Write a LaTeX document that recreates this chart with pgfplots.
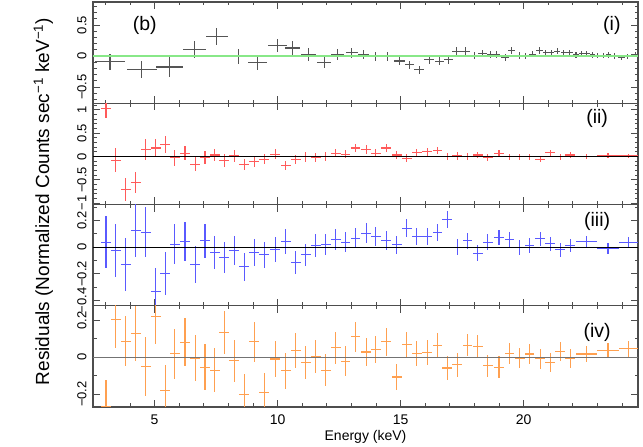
\documentclass[border=0pt]{standalone}
\usepackage{fontspec}
\setmainfont{Liberation Sans}
\usepackage{pgfplots}
\pgfplotsset{compat=1.18}
\definecolor{frm}{HTML}{4D4D4D}
\definecolor{pblack}{HTML}{555555}
\definecolor{pred}{HTML}{FF5A5A}
\definecolor{pblue}{HTML}{5A5AFF}
\definecolor{porange}{HTML}{FFA050}
\definecolor{pgreen}{HTML}{88E888}
\newcommand{\tfont}{\fontsize{13}{13}\selectfont}
\newcommand{\xfont}{\fontsize{14}{14}\selectfont}
\newcommand{\bfnt}{\fontsize{19.5}{20}\selectfont}
\newcommand{\lfnt}{\fontsize{19}{20}\selectfont}
\pgfplotsset{
 panel/.style={
  scale only axis, width=545pt, height=101.25pt, anchor=south west,
  xmin=2.5, xmax=24.65,
  axis line style={frm, line width=1.1pt},
  tick align=inside, major tick length=7pt, minor tick length=3.5pt,
  every tick/.style={frm, line width=0.8pt},
  xtick={5,10,15,20}, minor xtick={3,4,...,24},
  xticklabels={},
  yticklabel style={rotate=90, anchor=south, font=\tfont},
  yticklabel shift=3pt,
  xticklabel style={font=\xfont},
  xticklabel shift=4pt,
 },
 errs/.style={draw=#1, color=#1, only marks, mark=text, text mark={}, error bars/.cd, x dir=both, x explicit, y dir=both, y explicit, error mark=none, error bar style={draw=#1, color=#1, solid, line width=1.1pt}},
}
\begin{document}
\begin{tikzpicture}
\useasboundingbox (0,0) rectangle (643pt,447pt);
% Panel (i)
\begin{axis}[panel, at={(93pt,343.75pt)}, ymin=-0.76, ymax=0.87,
  ytick={-0.5,0,0.5}, yticklabels={−0.5,0,0.5},
  minor ytick={-0.7,-0.6,-0.4,-0.3,-0.2,-0.1,0.1,0.2,0.3,0.4,0.6,0.7,0.8}]
\addplot[errs=pblack] table[x=x,y=y,x error=ex,y error=ey] {
x y ex ey
3.19 -0.09 0.62 0.13
4.48 -0.215 0.61 0.14
5.60 -0.177 0.54 0.155
6.62 0.103 0.48 0.134
7.53 0.318 0.44 0.134
8.41 -0.005 0.44 0.126
9.19 -0.097 0.38 0.12
9.99 0.17 0.38 0.107
10.6 0.13 0.30 0.107
11.25 0.027 0.31 0.1
11.9 -0.1 0.29 0.094
12.45 0.027 0.26 0.086
13.02 0.05 0.25 0.08
13.49 0.02 0.24 0.075
13.99 -0.005 0.24 0.072
14.48 -0.005 0.24 0.07
14.94 -0.08 0.22 0.07
15.36 -0.14 0.2 0.068
15.76 -0.22 0.2 0.066
16.16 -0.06 0.2 0.065
16.58 -0.085 0.2 0.063
16.94 -0.06 0.18 0.062
17.28 0.08 0.18 0.06
17.65 0.08 0.18 0.058
17.99 0.01 0.17 0.057
18.33 0.04 0.17 0.056
18.67 0.03 0.15 0.055
18.91 0.03 0.13 0.055
19.25 -0.02 0.15 0.054
19.52 0.09 0.14 0.053
19.83 0.01 0.13 0.052
20.08 0 0.12 0.052
20.36 0.03 0.14 0.051
20.63 0.09 0.14 0.05
20.9 0.05 0.12 0.05
21.12 0.05 0.12 0.05
21.37 0.08 0.12 0.049
21.62 0.05 0.12 0.048
21.86 0.05 0.13 0.048
22.13 0.02 0.13 0.047
22.37 0.04 0.11 0.046
22.57 0.04 0.11 0.046
22.8 0.02 0.11 0.045
23.02 0.01 0.11 0.045
23.25 0.01 0.11 0.044
23.45 0.02 0.11 0.044
23.68 0 0.13 0.043
23.97 -0.02 0.14 0.043
24.23 -0.01 0.13 0.042
24.56 0.02 0.18 0.042
};
\addplot[pgreen, line width=1.8pt] coordinates {(2.5,0) (24.65,0)};
\node[font=\bfnt] at (rel axis cs:0.095,0.77) {(b)};
\node[font=\bfnt] at (rel axis cs:0.952,0.77) {(i)};
\end{axis}
% Panel (ii)
\begin{axis}[panel, at={(93pt,242.5pt)}, ymin=-1.03, ymax=1.14,
  ytick={-1,-0.5,0,0.5,1}, yticklabels={−1,−0.5,0,0.5,1},
  minor ytick={-0.9,-0.8,-0.7,-0.6,-0.4,-0.3,-0.2,-0.1,0.1,0.2,0.3,0.4,0.6,0.7,0.8,0.9,1.1}]
\addplot[errs=pred] table[x=x,y=y,x error=ex,y error=ey] {
x y ex ey
3.03 1.02 0.2 0.2
3.42 -0.08 0.2 0.26
3.83 -0.71 0.2 0.24
4.24 -0.56 0.2 0.23
4.65 0.15 0.2 0.22
5.05 0.18 0.2 0.2
5.44 0.26 0.2 0.18
5.83 -0.03 0.2 0.17
6.24 0.07 0.2 0.15
6.65 -0.17 0.2 0.15
7.05 -0.03 0.2 0.14
7.45 0.03 0.2 0.13
7.84 -0.08 0.2 0.14
8.24 0.01 0.2 0.125
8.65 -0.17 0.2 0.125
9.06 -0.11 0.2 0.12
9.46 -0.06 0.2 0.11
9.9 0.05 0.2 0.11
10.33 -0.19 0.2 0.1
10.74 -0.06 0.2 0.1
11.15 -0.01 0.2 0.1
11.55 -0.03 0.2 0.095
11.96 -0.01 0.2 0.095
12.37 0.07 0.2 0.09
12.76 0.05 0.2 0.09
13.17 0.18 0.2 0.09
13.6 0.15 0.2 0.088
13.99 0.07 0.2 0.086
14.41 0.18 0.2 0.085
14.84 0.03 0.2 0.083
15.25 -0.04 0.2 0.082
15.66 0.08 0.2 0.08
16.09 0.1 0.2 0.08
16.5 0.12 0.2 0.078
16.9 -0.01 0.2 0.077
17.3 0.01 0.2 0.076
17.72 -0.01 0.2 0.075
18.13 0.03 0.2 0.074
18.55 -0.03 0.2 0.073
19.0 0.07 0.2 0.072
19.43 -0.01 0.2 0.07
19.85 -0.01 0.2 0.07
20.24 -0.01 0.2 0.068
20.67 -0.06 0.2 0.068
21.08 0.08 0.2 0.067
21.49 -0.01 0.2 0.066
21.9 0.03 0.2 0.065
22.55 0.0 0.42 0.05
23.43 0.02 0.43 0.05
24.26 0.01 0.4 0.05
};
\addplot[black, line width=0.9pt] coordinates {(2.5,0) (24.65,0)};
\node[font=\bfnt] at (rel axis cs:0.925,0.85) {(ii)};
\end{axis}
% Panel (iii)
\begin{axis}[panel, at={(93pt,141.25pt)}, ymin=-0.44, ymax=0.32,
  ytick={-0.4,-0.2,0,0.2}, yticklabels={−0.4,−0.2,0,0.2},
  minor ytick={-0.3,-0.1,0.1,0.3}]
\addplot[errs=pblue] table[x=x,y=y,x error=ex,y error=ey] {
x y ex ey
3.03 0.038 0.2 0.197
3.42 -0.025 0.2 0.2
3.83 -0.128 0.2 0.2
4.24 0.125 0.2 0.197
4.65 0.113 0.2 0.19
5.05 -0.33 0.2 0.17
5.44 -0.2 0.2 0.16
5.83 0.022 0.2 0.15
6.24 0.042 0.2 0.146
6.65 -0.128 0.2 0.138
7.05 0.047 0.2 0.13
7.45 -0.04 0.2 0.123
7.84 -0.078 0.2 0.117
8.24 -0.025 0.2 0.11
8.65 -0.146 0.2 0.105
9.06 -0.04 0.2 0.103
9.46 -0.058 0.2 0.1
9.9 -0.02 0.2 0.094
10.33 0.042 0.2 0.093
10.74 -0.115 0.2 0.088
11.15 -0.058 0.2 0.085
11.55 0.012 0.2 0.084
11.96 0.022 0.2 0.08
12.37 0.06 0.2 0.078
12.76 0.038 0.2 0.076
13.17 0.068 0.2 0.075
13.6 0.105 0.2 0.074
13.99 0.08 0.2 0.073
14.41 0.05 0.2 0.072
14.84 0.017 0.2 0.07
15.25 0.143 0.2 0.068
15.66 0.08 0.2 0.067
16.09 0.08 0.2 0.066
16.5 0.11 0.2 0.065
16.9 0.205 0.2 0.064
17.3 0.0 0.2 0.062
17.72 0.047 0.2 0.061
18.13 -0.045 0.2 0.06
18.55 0.038 0.2 0.059
19.0 0.072 0.2 0.058
19.43 0.06 0.2 0.057
19.85 -0.002 0.2 0.056
20.24 0.01 0.2 0.055
20.67 0.062 0.2 0.054
21.08 0.025 0.2 0.053
21.49 -0.02 0.2 0.052
21.9 0.01 0.2 0.05
22.55 0.042 0.42 0.04
23.43 -0.008 0.43 0.04
24.26 0.038 0.4 0.04
};
\addplot[black, line width=0.9pt] coordinates {(2.5,0) (24.65,0)};
\node[font=\bfnt] at (rel axis cs:0.925,0.83) {(iii)};
\end{axis}
% Panel (iv)
\begin{axis}[panel, at={(93pt,40pt)}, ymin=-0.27, ymax=0.28,
  ytick={-0.2,0,0.2}, yticklabels={−0.2,0,0.2},
  minor ytick={-0.1,0.1},
  xticklabels={5,10,15,20},
  xlabel={Energy (keV)},
  xlabel style={at={(axis description cs:0.5,0)}, anchor=center, yshift=-30pt, font=\xfont}]
\addplot[errs=porange] table[x=x,y=y,x error=ex,y error=ey] {
x y ex ey
3.03 -0.265 0.2 0.14
3.42 0.206 0.2 0.155
3.83 0.088 0.2 0.137
4.24 0.128 0.2 0.15
4.65 -0.049 0.2 0.16
5.05 0.224 0.2 0.15
5.44 -0.182 0.2 0.14
5.83 0.02 0.2 0.136
6.24 0.082 0.2 0.132
6.65 -0.004 0.2 0.127
7.05 -0.053 0.2 0.123
7.45 -0.071 0.2 0.12
7.84 0.137 0.2 0.117
8.24 -0.018 0.2 0.114
8.65 -0.2 0.2 0.11
9.06 0.084 0.2 0.108
9.46 -0.191 0.2 0.105
9.9 -0.009 0.2 0.1
10.33 -0.073 0.2 0.097
10.74 0.037 0.2 0.095
11.15 -0.027 0.2 0.091
11.55 0.005 0.2 0.09
11.96 -0.071 0.2 0.087
12.37 0.051 0.2 0.085
12.76 -0.022 0.2 0.082
13.17 0.111 0.2 0.083
13.6 0.029 0.2 0.077
13.99 0.042 0.2 0.075
14.41 0.084 0.2 0.077
14.84 -0.107 0.2 0.072
15.25 0.069 0.2 0.068
15.66 0.02 0.2 0.068
16.09 0.027 0.2 0.068
16.5 0.064 0.2 0.067
16.9 -0.058 0.2 0.066
17.3 -0.04 0.2 0.065
17.72 0.066 0.2 0.061
18.13 0.06 0.2 0.061
18.55 -0.045 0.2 0.06
19.0 -0.053 0.2 0.058
19.43 0.02 0.2 0.057
19.85 -0.004 0.2 0.056
20.24 0.018 0.2 0.055
20.67 -0.007 0.2 0.054
21.08 -0.027 0.2 0.053
21.49 0.033 0.2 0.052
21.9 -0.007 0.2 0.05
22.55 0.018 0.42 0.045
23.43 0.038 0.43 0.042
24.26 0.046 0.4 0.042
};
\addplot[black!55, line width=1.1pt] coordinates {(2.5,0) (24.65,0)};
\node[font=\bfnt] at (rel axis cs:0.925,0.74) {(iv)};
\end{axis}
\node[rotate=90, anchor=center, font=\lfnt] at (43.5pt,245.5pt) {Residuals (Normalized Counts sec\textsuperscript{−1} keV\textsuperscript{−1})};
\end{tikzpicture}
\end{document}
